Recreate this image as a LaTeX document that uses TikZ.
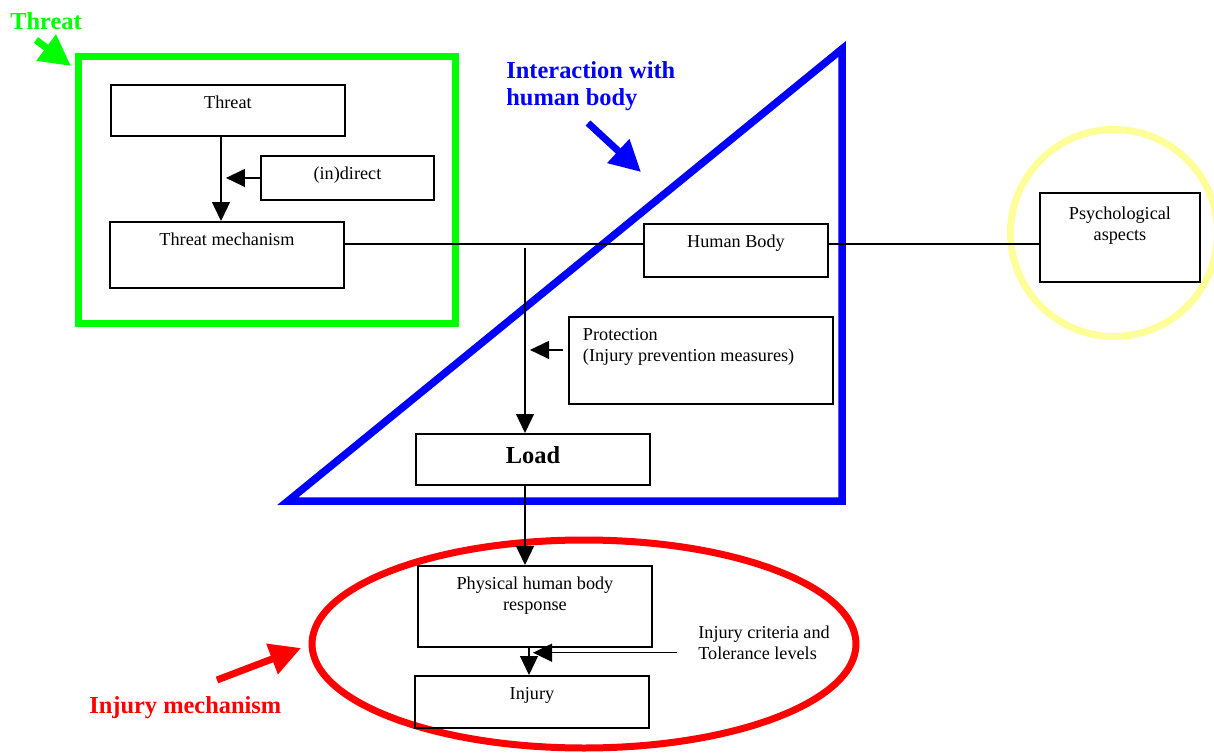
\documentclass[tikz,border=0pt]{standalone}
\usepackage{fontspec}
\setmainfont{Liberation Serif}
\usetikzlibrary{arrows.meta,calc}
\definecolor{brightgreen}{RGB}{0,255,0}
\definecolor{hiyellow}{RGB}{255,255,153}
\tikzset{box/.style={draw, line width=1.1pt, inner sep=0pt, anchor=north west},
  link/.style={line width=0.75pt},
  arr/.style={line width=0.75pt, -{Triangle[length=0.38cm, width=0.36cm]}},
  frame/.style={line width=0.14cm},
  fat/.style={line width=0.14cm, -{Triangle[length=0.62cm, width=0.62cm]}},
  tag/.style={inner sep=0pt, anchor=north west, align=left, font=\fontsize{13.9}{15.3}\selectfont\bfseries}}
\newlength{\txttop}
\setlength{\txttop}{0.48cm}
\newcommand{\inbox}[4][\centering]{\parbox[t][#3][t]{#2}{#1\rule{0pt}{\txttop}#4}}

\begin{document}
\begin{tikzpicture}[x=0.02cm, y=-0.02cm, font=\fontsize{10.36}{11.9}\selectfont]
  \useasboundingbox (0,0) rectangle (1214,753);
  \draw[frame, brightgreen] (78.5,57) rectangle (455.5,323.5);
  \draw[frame, blue, line width=0.15cm] (288,501) -- (842,49) -- (842,501) -- cycle;
  \draw[frame, hiyellow] (1114,233) circle[radius=103.5];
  \draw[frame, red] (584,644) ellipse[x radius=272, y radius=104];

  \node[tag, text=brightgreen] (threattag) at (10,12.5) {Threat};
  \node[tag, text=blue] (bodytag) at (506,61) {Interaction with\\human body};
  \node[tag, text=red] (injurytag) at (89,696) {Injury mechanism};
  \draw[fat, brightgreen] (36,40) -- (71,66);
  \draw[fat, blue] (588,123) -- (641,172);
  \draw[fat, red] (217,680) -- (301,648);

  \node[box] (threat) at (110,84) {\inbox{4.68cm}{1.02cm}{Threat}};
  \node[box] (indirect) at (260,155) {\inbox{3.46cm}{0.88cm}{(in)direct}};
  \node[box] (mech) at (109,221) {\inbox{4.68cm}{1.32cm}{Threat mechanism}};
  \node[box] (body) at (643,223) {\inbox{3.68cm}{1.06cm}{Human Body}};
  \node[box] (psych) at (1039,192) {\setlength{\txttop}{0.53cm}\inbox{3.2cm}{1.78cm}{Psychological\\aspects}};
  \node[box] (protect) at (568,316) {\inbox[\raggedright\leftskip=0.28cm]{5.28cm}{1.74cm}{Protection\\(Injury prevention measures)}};
  \node[box] (load) at (415,433) {\setlength{\txttop}{0.6cm}\inbox{4.68cm}{1.02cm}{\fontsize{13.9}{15.3}\selectfont\bfseries Load}};
  \node[box] (phys) at (417,565) {\inbox{4.68cm}{1.62cm}{Physical human body\\response}};
  \node[box] (injury) at (414,675) {\inbox{4.68cm}{1.04cm}{Injury}};
  \node[inner sep=0pt, anchor=north west, align=left] (crit) at (698,625.5) {Injury criteria and\\Tolerance levels};

  \coordinate (drop1) at (221,0);
  \coordinate (spine) at (0,244);
  \coordinate (split) at (525,248);
  \coordinate (drop2) at (529,0);

  \draw[arr] (threat.south -| drop1) -- (mech.north -| drop1);
  \draw[arr] (indirect.west) -- ++(-34,0);
  \draw[link] (mech.east |- spine) -- (body.west |- spine);
  \draw[link] (body.east |- spine) -- (psych.west |- spine);
  \draw[arr] (split) -- (split |- load.north);
  \draw[arr] ([shift={(-5,-10.5)}]protect.west) -- ++(-33,0);
  \draw[arr] (split |- load.south) -- (split |- phys.north);
  \draw[arr] (phys.south -| drop2) -- (injury.north -| drop2);
  \draw[arr] ([shift={(-21,10)}]crit.west) -- ++(-144,0);
\end{tikzpicture}
\end{document}
